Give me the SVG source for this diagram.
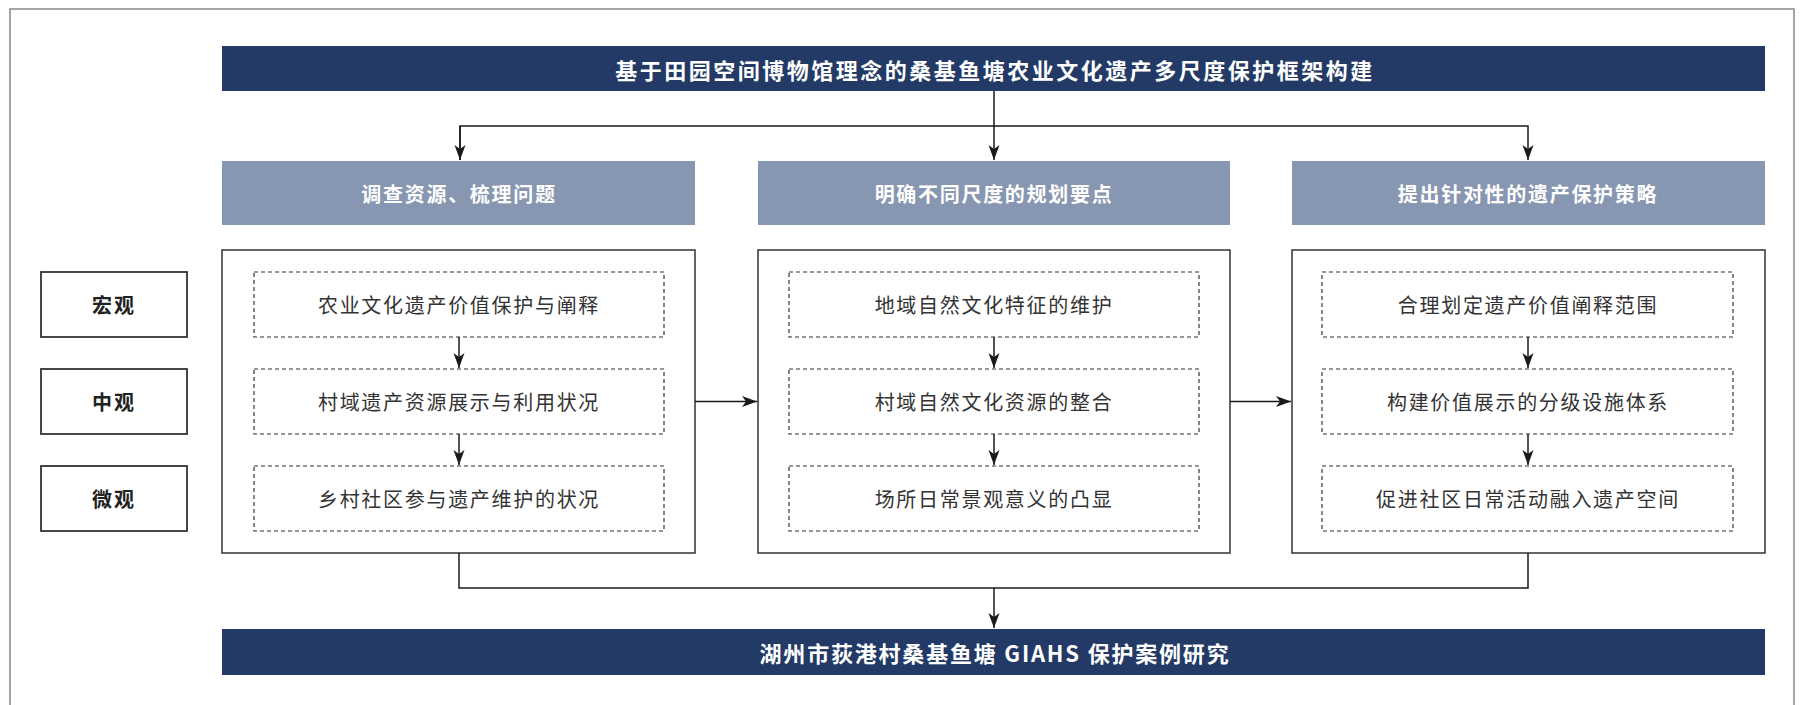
<svg xmlns="http://www.w3.org/2000/svg" width="1802" height="705" viewBox="0 0 1802 705">
<defs>
<marker id="arr" markerUnits="userSpaceOnUse" markerWidth="16" markerHeight="12" refX="15" refY="6" orient="auto">
<path d="M0,0.5 L15,6 L0,11.5 L4,6 z" fill="#1a1a1a"/>
</marker>
<style>
.bar{fill:#233a66}
.phase{fill:#8796b1}
.box{fill:#fff;stroke:#333;stroke-width:1.5}
.dash{fill:#fff;stroke:#333;stroke-width:1.2;stroke-dasharray:4 3}
.scale{fill:#fff;stroke:#333;stroke-width:1.8}
.t{font-family:"Noto Sans CJK SC","Noto Sans",sans-serif;text-anchor:middle;dominant-baseline:central}
.tb{font-size:22px;font-weight:700;fill:#fff;letter-spacing:1.8px}
.tt{letter-spacing:2.5px}
.tp{font-size:20px;font-weight:700;fill:#fff;letter-spacing:1.7px}
.tn{font-size:20px;fill:#333;letter-spacing:1.7px}
.ts{font-size:20px;font-weight:700;fill:#222;letter-spacing:2px}
.c{fill:none;stroke:#1a1a1a;stroke-width:1.5}
</style>
</defs>
<rect x="0" y="0" width="1802" height="705" fill="#fff"/>
<rect x="10" y="9" width="1784" height="730" fill="none" stroke="#888" stroke-width="1.5"/>

<g id="title"><rect class="bar" x="222" y="46" width="1543" height="45"/><text class="t tb tt" x="995" y="68.5">基于田园空间博物馆理念的桑基鱼塘农业文化遗产多尺度保护框架构建</text></g>

<g id="phase1"><rect class="phase" x="222" y="161" width="473" height="64"/><text class="t tp" x="459" y="193">调查资源、梳理问题</text></g>
<g id="phase2"><rect class="phase" x="758" y="161" width="472" height="64"/><text class="t tp" x="994" y="193">明确不同尺度的规划要点</text></g>
<g id="phase3"><rect class="phase" x="1292" y="161" width="473" height="64"/><text class="t tp" x="1528" y="193">提出针对性的遗产保护策略</text></g>

<g id="scale-macro"><rect class="scale" x="41" y="272" width="146" height="65"/><text class="t ts" x="114" y="304.5">宏观</text></g>
<g id="scale-meso"><rect class="scale" x="41" y="369" width="146" height="65"/><text class="t ts" x="114" y="401.5">中观</text></g>
<g id="scale-micro"><rect class="scale" x="41" y="466" width="146" height="65"/><text class="t ts" x="114" y="498.5">微观</text></g>

<g id="col1"><rect class="box" x="222" y="250" width="473" height="303"/></g>
<g id="col2"><rect class="box" x="758" y="250" width="472" height="303"/></g>
<g id="col3"><rect class="box" x="1292" y="250" width="473" height="303"/></g>

<g id="c1r1"><rect class="dash" x="254" y="272" width="410" height="65"/><text class="t tn" x="459" y="304.5">农业文化遗产价值保护与阐释</text></g>
<g id="c1r2"><rect class="dash" x="254" y="369" width="410" height="65"/><text class="t tn" x="459" y="401.5">村域遗产资源展示与利用状况</text></g>
<g id="c1r3"><rect class="dash" x="254" y="466" width="410" height="65"/><text class="t tn" x="459" y="498.5">乡村社区参与遗产维护的状况</text></g>

<g id="c2r1"><rect class="dash" x="789" y="272" width="410" height="65"/><text class="t tn" x="994" y="304.5">地域自然文化特征的维护</text></g>
<g id="c2r2"><rect class="dash" x="789" y="369" width="410" height="65"/><text class="t tn" x="994" y="401.5">村域自然文化资源的整合</text></g>
<g id="c2r3"><rect class="dash" x="789" y="466" width="410" height="65"/><text class="t tn" x="994" y="498.5">场所日常景观意义的凸显</text></g>

<g id="c3r1"><rect class="dash" x="1322" y="272" width="411" height="65"/><text class="t tn" x="1528" y="304.5">合理划定遗产价值阐释范围</text></g>
<g id="c3r2"><rect class="dash" x="1322" y="369" width="411" height="65"/><text class="t tn" x="1528" y="401.5">构建价值展示的分级设施体系</text></g>
<g id="c3r3"><rect class="dash" x="1322" y="466" width="411" height="65"/><text class="t tn" x="1528" y="498.5">促进社区日常活动融入遗产空间</text></g>

<g id="bottom"><rect class="bar" x="222" y="629" width="1543" height="46"/><text class="t tb" x="995" y="652">湖州市荻港村桑基鱼塘 GIAHS 保护案例研究</text></g>

<g id="connectors">
<path class="c" d="M994,91 V160" marker-end="url(#arr)"/>
<path class="c" d="M460,160 V126 H1528 V160" marker-end="url(#arr)"/>
<path class="c" d="M460,126 V160" marker-end="url(#arr)"/>
<path class="c" d="M459,337 V368" marker-end="url(#arr)"/>
<path class="c" d="M459,434 V465" marker-end="url(#arr)"/>
<path class="c" d="M994,337 V368" marker-end="url(#arr)"/>
<path class="c" d="M994,434 V465" marker-end="url(#arr)"/>
<path class="c" d="M1528,337 V368" marker-end="url(#arr)"/>
<path class="c" d="M1528,434 V465" marker-end="url(#arr)"/>
<path class="c" d="M695,401.5 H757" marker-end="url(#arr)"/>
<path class="c" d="M1230,401.5 H1291" marker-end="url(#arr)"/>
<path class="c" d="M459,553 V588 H1528 V553"/>
<path class="c" d="M994,588 V628" marker-end="url(#arr)"/>
</g>
</svg>
